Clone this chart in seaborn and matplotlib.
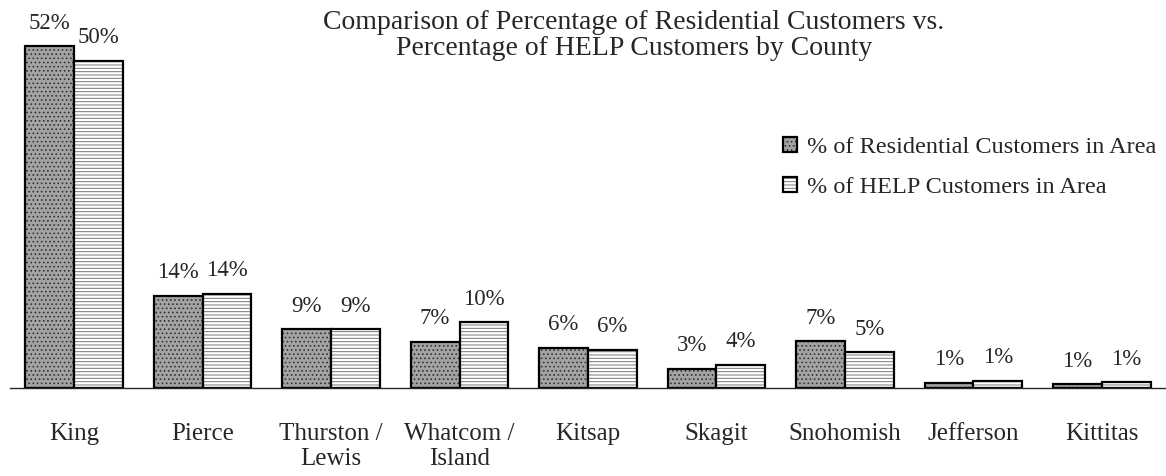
import pandas as pd
import numpy as np
import matplotlib.pyplot as plt
import matplotlib.colors as mcolors
import seaborn as sns

# ----------------------------
# DATA
# ----------------------------
counties = ["King", "Pierce", "Thurston /\nLewis", "Whatcom /\nIsland", "Kitsap",
            "Skagit", "Snohomish", "Jefferson", "Kittitas"]
residential = [51.8, 14.0, 8.9, 7.0, 6.1, 2.9, 7.1, 0.8, 0.6]
help_cust = [49.6, 14.3, 8.9, 10.0, 5.8, 3.5, 5.4, 1.1, 0.9]
series = ["% of Residential Customers in Area", "% of HELP Customers in Area"]

df = pd.DataFrame({
    "County": counties * 2,
    "Pct": residential + help_cust,
    "Series": [series[0]] * len(counties) + [series[1]] * len(counties),
})

# ----------------------------
# STYLE
# ----------------------------
sns.set_style("white")
plt.rcParams["font.family"] = ["Liberation Serif", "DejaVu Serif"]
plt.rcParams["hatch.linewidth"] = 0.7

fig = plt.figure(figsize=(11.66, 4.76), dpi=100)
ax = fig.add_axes([10 / 1166, 88 / 476, 1 - 10 / 1166, 388 / 476])

sns.barplot(data=df, x="County", y="Pct", hue="Series",
            palette=["#a3a3a3", "#ffffff"], edgecolor="black", linewidth=1.6,
            width=0.76, gap=0, legend=False, ax=ax)

# stipple for residential, dotted horizontal lines for HELP
hatches = ["....", "-----"]
hatch_cols = ["#333333", "#777777"]
for cont, h, hc in zip(ax.containers, hatches, hatch_cols):
    for bar in cont:
        bar.set_hatch(h)
        bar._hatch_color = mcolors.to_rgba(hc)
    ax.bar_label(cont, labels=[f"{v:.0f}%" for v in cont.datavalues],
                 padding=9, fontsize=16.5)

ax.set_ylim(0, 58.8)
ax.set_xlim(-0.5, len(counties) - 0.5)
ax.set_yticks([])
ax.set_xlabel("")
ax.set_ylabel("")
for s in ["top", "left", "right"]:
    ax.spines[s].set_visible(False)
ax.spines["bottom"].set_linewidth(1.0)

# ticks at category boundaries
ax.set_xticks(np.arange(-0.5, len(counties)), minor=True)
ax.tick_params(axis="x", which="minor", length=7, width=1, direction="out")
ax.tick_params(axis="x", which="major", length=0, pad=25, labelsize=18)
for lab in ax.get_xticklabels():
    lab.set_linespacing(1.2)

fig.text(634 / 1166, 1 - 10 / 476,
         "Comparison of Percentage of Residential Customers vs.\n"
         "Percentage of HELP Customers by County",
         ha="center", va="top", fontsize=20, linespacing=1.05)

leg = ax.legend(ax.containers, series, loc="upper right",
                bbox_to_anchor=(1.0, 0.672), frameon=False, fontsize=17.5,
                handlelength=0.6, handleheight=0.6, handletextpad=0.4,
                labelspacing=0.75, borderaxespad=0)

fig.savefig("out.png", dpi=100)
